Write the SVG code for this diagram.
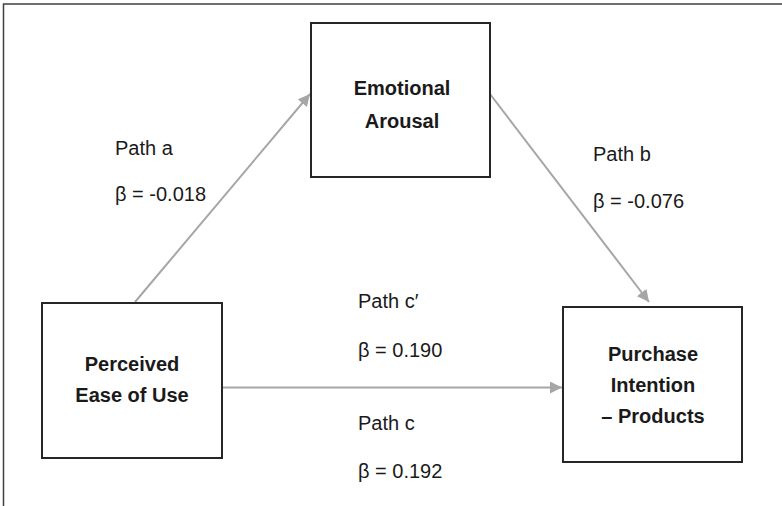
<svg xmlns="http://www.w3.org/2000/svg" width="782" height="506" viewBox="0 0 782 506">
<style>
.box{fill:#fff;stroke:#262626;stroke-width:2}
.frame{fill:none;stroke:#404040;stroke-width:1.5}
.lbl{font-family:"Liberation Sans",Arial,sans-serif;font-size:20px;font-weight:bold;fill:#1a1a1a;text-anchor:middle}
.txt{font-family:"Liberation Sans",Arial,sans-serif;font-size:20px;fill:#1a1a1a}
.conn{stroke:#a6a6a6;stroke-width:2;fill:none;marker-end:url(#ah)}
</style>
<defs>
<marker id="ah" viewBox="0 0 10 10" refX="10" refY="5" markerWidth="6" markerHeight="6" markerUnits="strokeWidth" orient="auto">
<path d="M0,0 L10,5 L0,10 z" fill="#a6a6a6"/>
</marker>
</defs>
<rect width="782" height="506" fill="#fff"/>
<path class="frame" d="M3.5,506 V4 H782"/>
<g id="connectors">
<line class="conn" x1="135" y1="302" x2="310" y2="94"/>
<line class="conn" x1="490" y1="94" x2="649" y2="302"/>
<line class="conn" x1="222" y1="387.5" x2="562" y2="387.5"/>
</g>
<g id="emotional-arousal">
<rect class="box" x="311" y="23" width="179" height="154"/>
<text class="lbl" x="402" y="95">Emotional</text>
<text class="lbl" x="402" y="128">Arousal</text>
</g>
<g id="perceived-ease">
<rect class="box" x="42" y="303" width="180" height="155"/>
<text class="lbl" x="132" y="371">Perceived</text>
<text class="lbl" x="132" y="402">Ease of Use</text>
</g>
<g id="purchase-intention">
<rect class="box" x="563" y="307" width="179" height="155"/>
<text class="lbl" x="653" y="361">Purchase</text>
<text class="lbl" x="653" y="392">Intention</text>
<text class="lbl" x="653" y="423">– Products</text>
</g>
<g id="labels">
<text class="txt" x="115" y="155">Path a</text>
<text class="txt" x="115" y="201">β = -0.018</text>
<text class="txt" x="593" y="161">Path b</text>
<text class="txt" x="593" y="208">β = -0.076</text>
<text class="txt" x="358" y="308">Path c′</text>
<text class="txt" x="358" y="357">β = 0.190</text>
<text class="txt" x="358" y="430">Path c</text>
<text class="txt" x="358" y="478">β = 0.192</text>
</g>
</svg>
